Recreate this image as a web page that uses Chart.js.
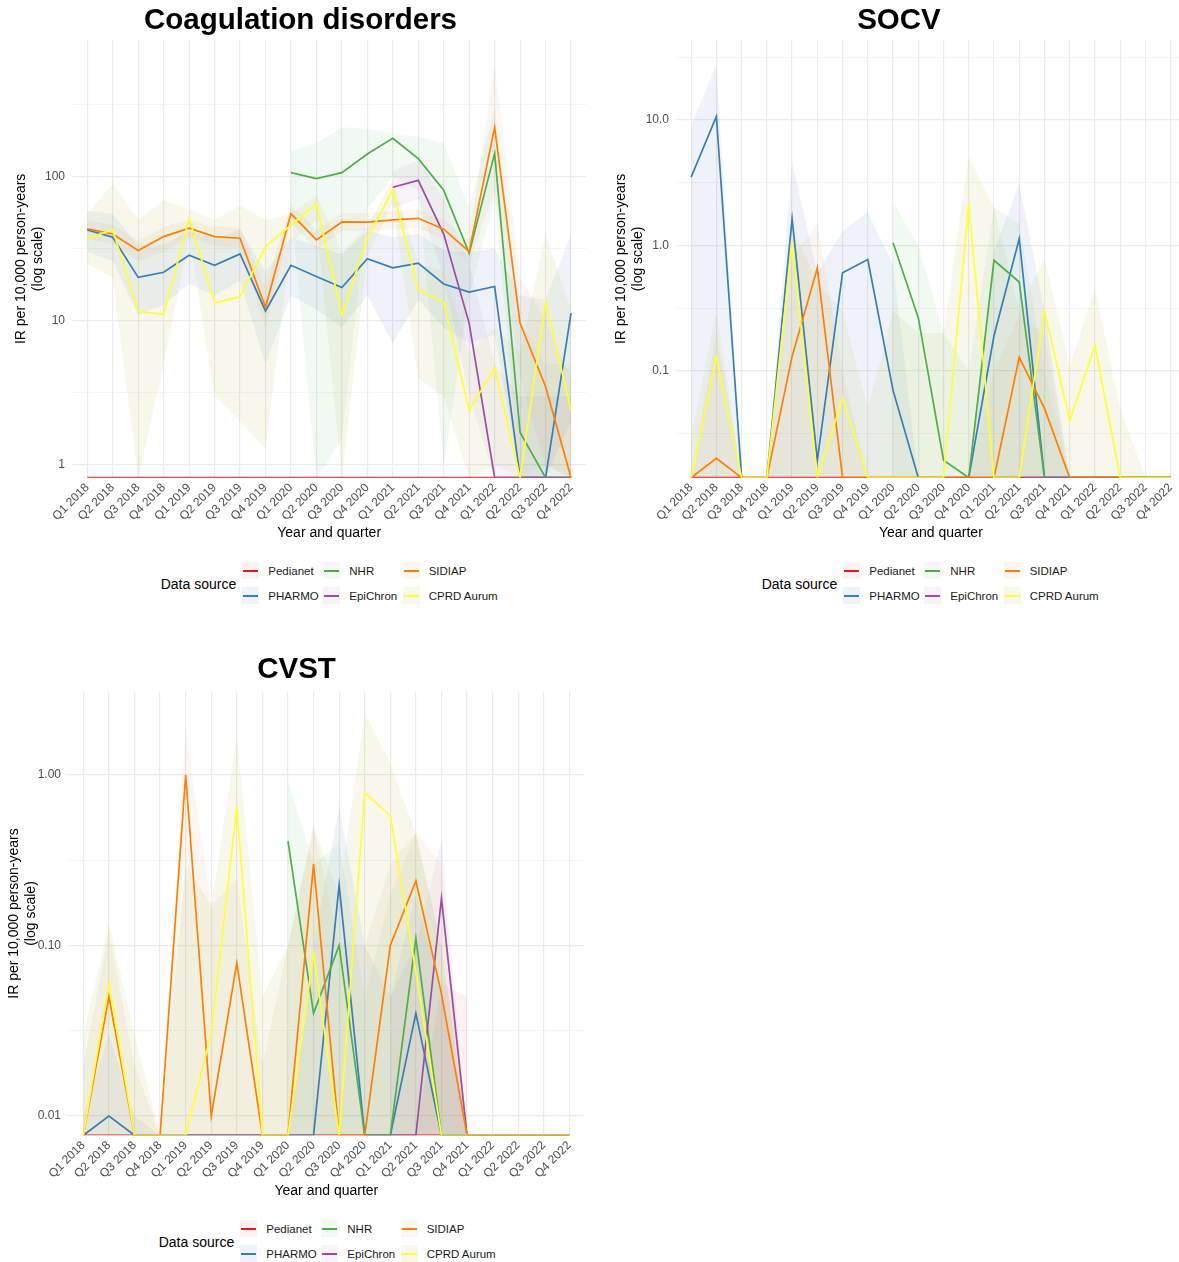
<!DOCTYPE html>
<html>
<head>
<meta charset="utf-8">
<script src="https://cdn.jsdelivr.net/npm/chart.js@4.4.1/dist/chart.umd.min.js"></script>
<style>
html,body{margin:0;padding:0;background:#fff;overflow:hidden;width:1179px;height:1262px;}
body{position:relative;font-family:"Liberation Sans",Arial,Helvetica,sans-serif;}
canvas{position:absolute;}
.ttl{position:absolute;font-weight:bold;font-size:29.5px;line-height:29.5px;color:#000;white-space:nowrap;transform:translateX(-50%);}
.lt{position:absolute;font-size:11.5px;line-height:12px;color:#1a1a1a;white-space:nowrap;}
.ds{position:absolute;font-size:14px;line-height:14px;color:#000;white-space:nowrap;}
.key{position:absolute;width:17px;height:17px;}
.key i{position:absolute;left:1px;right:1px;top:7.5px;height:2px;}
</style>
</head>
<body>
<canvas id="c1" width="600" height="548" style="left:0px;top:0px;width:600px;height:548px"></canvas>
<canvas id="c2" width="600" height="548" style="left:600px;top:0px;width:600px;height:548px"></canvas>
<canvas id="c3" width="604" height="556" style="left:-4px;top:650px;width:604px;height:556px"></canvas>
<script>
// ---------------- DATA ----------------
const quarters = ['Q1 2018','Q2 2018','Q3 2018','Q4 2018','Q1 2019','Q2 2019','Q3 2019','Q4 2019',
  'Q1 2020','Q2 2020','Q3 2020','Q4 2020','Q1 2021','Q2 2021','Q3 2021','Q4 2021',
  'Q1 2022','Q2 2022','Q3 2022','Q4 2022'];
const sources = ['Pedianet','PHARMO','NHR','EpiChron','SIDIAP','CPRD Aurum'];
const sourceColors = ['#E41A1C','#377EB8','#4DAF4A','#984EA3','#FF7F00','#FFFF33'];
const panelTitles = ['Coagulation disorders','SOCV','CVST'];
const N = null;

// Coagulation disorders (IR per 10,000 person-years; 0 = no events)
const coagIR = [
  [0,0,0,0,0,0,0,0,0,0,0,0,0,0,0,0,0,0,0,0],
  [42.7,38,20,21.7,28.5,24.3,29.1,11.7,24.3,20.3,17,27,23.3,25.1,18,15.8,17.3,0,0,11.3],
  [N,N,N,N,N,N,N,N,106.6,96.9,106.6,143.6,184.5,133.3,80.4,29.4,145,1.68,0,0],
  [N,N,N,N,N,N,N,N,N,N,N,N,84.4,94.3,40,9.6,0,0,0,0],
  [43.4,40,30.7,38.4,43.9,38.4,37.4,12.4,55.4,36.4,48.5,48.3,50.1,51.4,43.2,30.2,220,9.6,3.5,0],
  [37.4,42.7,11.6,11.1,51.4,13.3,14.7,32.7,46,64.7,11,37.4,80.9,16.4,13.5,2.4,4.7,0,13.4,2.4]
];
const coagLower = [
  N,
  [30,26,11,13,18,15,19,5,15,12,9,15,7,14,9,7,8,0,0,2],
  [N,N,N,N,N,N,N,N,60,0,1.5,60,100,80,1.0,15,70,0,0,0],
  [N,N,N,N,N,N,N,N,N,N,N,N,60,70,20,3,0,0,0,0],
  [37,34,26,30,38,33,32,9,48,31,42,42,43,44,37,25,80,4,1,0],
  [25,20,0,5,38,3,2,1.3,35,50,0,28,65,4,3,0,1,0,1,0]
];
const coagUpper = [
  N,
  [58,55,33,34,42,37,43,22,38,33,29,42,38,40,31,30,32,15,14,40],
  [N,N,N,N,N,N,N,N,150,170,220,215,200,190,170,60,300,10,5,5],
  [N,N,N,N,N,N,N,N,N,N,N,N,110,130,70,25,5,3,3,3],
  [50,46,36,45,50,45,44,17,64,43,56,56,58,59,50,36,600,20,10,4],
  [55,90,50,68,60,50,63,50,55,75,30,45,95,25,22,6,9,6,40,12]
];
const coagYTicks = [1,10,100];
const coagYLabels = ['1','10','100'];

// SOCV
const socvIR = [
  [0,0,0,0,0,0,0,0,0,0,0,0,0,0,0,0,0,0,0,0],
  [3.5,10.7,0,0,1.63,0.0193,0.605,0.77,0.0697,0,0,0,0.19,1.13,0,0,0,0,0,0],
  [N,N,N,N,N,N,N,N,1.05,0.265,0.0193,0,0.76,0.51,0,0,0,0,0,0],
  [N,N,N,N,N,N,N,N,N,N,N,N,0,0,0,0,0,0,0,0],
  [0,0.02,0,0,0.13,0.66,0,0,0,0,0,0,0,0.128,0.05,0,0,0,0,0],
  [0,0.128,0,0,1.03,0,0.06,0,0,0,0,2.15,0,0,0.30,0.040,0.159,0,0,0]
];
const socvLower = [
  N,
  [0,0,0,0,0,0,0,0,0,0,0,0,0,0,0,0,0,0,0,0],
  [N,N,N,N,N,N,N,N,0,0,0,0,0,0,0,0,0,0,0,0],
  N,
  [0,0,0,0,0,0,0,0,0,0,0,0,0,0,0,0,0,0,0,0],
  [0,0,0,0,0,0,0,0,0,0,0,0,0,0,0,0,0,0,0,0]
];
const socvUpper = [
  N,
  [9,28,0,0,4.6,0.6,1.3,1.85,0.7,0,0,0,0.9,3.1,0.3,0,0,0,0,0],
  [N,N,N,N,N,N,N,N,2.2,1.0,0.2,0.1,2.0,1.5,0.1,0,0,0,0,0],
  N,
  [0,0.2,0,0,0.8,1.5,0.1,0,0,0,0,0,0.1,0.28,0.2,0,0,0,0,0],
  [0.03,0.3,0,0,1.4,0.5,0.3,0.05,0.3,0.2,0.2,5.1,2.0,0.3,0.8,0.11,0.45,0.05,0,0]
];
const socvYTicks = [0.1,1,10];
const socvYLabels = ['0.1','1.0','10.0'];

// CVST
const cvstIR = [
  [0,0,0,0,0,0,0,0,0,0,0,0,0,0,0,0,0,0,0,0],
  [0,0.01,0,0,0,0,0,0,0,0,0.226,0,0,0.04,0,0,0,0,0,0],
  [N,N,N,N,N,N,N,N,0.41,0.04,0.10,0,0,0.11,0,0,0,0,0,0],
  [N,N,N,N,N,N,N,N,N,N,N,N,0,0,0.189,0,0,0,0,0],
  [0,0.05,0,0,1.0,0.01,0.079,0,0,0.30,0,0,0.10,0.239,0.052,0,0,0,0,0],
  [0,0.06,0,0,0,0.0305,0.65,0,0,0.09,0,0.79,0.575,0.07,0,0,0,0,0,0]
];
const cvstLower = [
  [0,0,0,0,0,0,0,0,0,0,0,0,0,0,0,0,N,N,N,N],
  [0,0,0,0,0,0,0,0,0,0,0,0,0,0,0,0,0,0,0,0],
  [N,N,N,N,N,N,N,N,0,0,0,0,0,0,0,0,0,0,0,0],
  [N,N,N,N,N,N,N,N,N,N,N,N,0,0,0,0,0,0,0,0],
  [0,0,0,0,0,0,0,0,0,0,0,0,0,0,0,0,0,0,0,0],
  [0,0,0,0,0,0,0,0,0,0,0,0,0,0,0,0,0,0,0,0]
];
const cvstUpper = [
  [0,0,0,0,0,0,0,0,0,0,0,0,0,0,0.06,0.05,N,N,N,N],
  [0.01,0.03,0.01,0,0,0,0,0,0,0.1,0.65,0.1,0.05,0.2,0.05,0,0,0,0,0],
  [N,N,N,N,N,N,N,N,0.93,0.3,0.4,0.05,0.2,0.45,0.1,0,0,0,0,0],
  [N,N,N,N,N,N,N,N,N,N,N,N,0.05,0.1,0.42,0,0,0,0,0],
  [0.02,0.12,0.02,0,1.8,0.17,0.25,0.02,0.1,0.5,0.1,0.1,0.3,0.46,0.3,0,0,0,0,0],
  [0.03,0.135,0.03,0,0.3,0.17,1.68,0.05,0.1,0.5,0.2,2.3,1.17,0.45,0.1,0,0,0,0,0]
];
const cvstYTicks = [0.01,0.1,1];
const cvstYLabels = ['0.01','0.10','1.00'];

// ---------------- STYLE / LAYOUT ----------------
const FONT = '"Liberation Sans", Arial, Helvetica, sans-serif';
Chart.defaults.font.family = FONT;
const ribbonFills = ['rgba(228,60,60,0.07)','rgba(55,100,184,0.08)','rgba(77,175,74,0.07)',
  'rgba(152,78,163,0.07)','rgba(215,160,100,0.09)','rgba(190,190,100,0.12)'];

const panels = [
  {id:'c1', width:600, height:548, chartTop:40, yAxisW:72, xAxisH:70.3, padRight:13.7,
   yMin:0.816, yMax:887, yTicks:coagYTicks, yLabels:coagYLabels, ir:coagIR, lo:coagLower, hi:coagUpper,
   yTitlePad:12.6, title:panelTitles[0], titleX:300.5, titleY:18.3, legDX:0, legDY:0},
  {id:'c2', width:600, height:548, chartTop:40, yAxisW:76, xAxisH:70.3, padRight:14.2,
   yMin:0.01401, yMax:43.5, yTicks:socvYTicks, yLabels:socvYLabels, ir:socvIR, lo:socvLower, hi:socvUpper,
   yTitlePad:12.6, title:panelTitles[1], titleX:899, titleY:18.3, legDX:601, legDY:0},
  {id:'c3', width:604, height:556, chartTop:41.7, yAxisW:72, xAxisH:70.7, padRight:15.3,
   yMin:0.0077, yMax:3.08, yTicks:cvstYTicks, yLabels:cvstYLabels, ir:cvstIR, lo:cvstLower, hi:cvstUpper,
   yTitlePad:9.6, title:panelTitles[2], titleX:296.5, titleY:667, legDX:-2, legDY:658}
];

function buildDatasets(p){
  const toPts = arr => arr.map((v,i)=>({x:i, y: v===null ? null : (v<=0 ? p.yMin : v)}));
  const ds = [];
  sources.forEach((s,k)=>{
    if(!p.hi[k] || !p.lo[k]) return;
    const idxLo = ds.length;
    ds.push({data:toPts(p.lo[k]), borderWidth:0, pointRadius:0, fill:false, order:200-k, clip:0, spanGaps:false});
    ds.push({data:toPts(p.hi[k]), borderWidth:0, pointRadius:0, fill:idxLo, backgroundColor:ribbonFills[k], order:200-k, clip:0, spanGaps:false});
  });
  sources.forEach((s,k)=>{
    ds.push({label:s, data:toPts(p.ir[k]), borderColor:sourceColors[k], borderWidth:1.7, pointRadius:0,
      fill:false, tension:0, order:10-k, clip:0, spanGaps:false});
  });
  return ds;
}

panels.forEach(p=>{
  const majors = p.yTicks;
  const allTicks = [];
  majors.forEach(v=>{allTicks.push(v); allTicks.push(v*Math.sqrt(10));});
  allTicks.unshift(majors[0]/Math.sqrt(10));
  const isMajor = v => majors.some(m=>Math.abs(m-v)/m<1e-6);
  new Chart(document.getElementById(p.id), {
    type:'line',
    data:{datasets:buildDatasets(p)},
    options:{
      responsive:false, animation:false, events:[],
      layout:{padding:{top:p.chartTop, right:p.padRight, left:0, bottom:0}},
      plugins:{legend:{display:false}, tooltip:{enabled:false}, title:{display:false}},
      scales:{
        x:{type:'linear', min:-0.6, max:19.6, bounds:'data',
          afterBuildTicks:s=>{s.ticks = quarters.map((q,i)=>({value:i}));},
          afterFit:s=>{s.height = p.xAxisH;},
          ticks:{autoSkip:false, maxRotation:45, minRotation:45, padding:3, color:'#4d4d4d',
            font:{size:12, family:FONT}, callback:(v)=>quarters[v]},
          grid:{color:'#ebebeb', lineWidth:1.2, drawTicks:false},
          border:{display:false},
          title:{display:true, text:'Year and quarter', color:'#000', font:{size:14, family:FONT}, padding:{top:0, bottom:6.6}}
        },
        y:{type:'logarithmic', min:p.yMin, max:p.yMax, bounds:'data',
          afterBuildTicks:s=>{s.ticks = allTicks.filter(v=>v>=p.yMin && v<=p.yMax).map(v=>({value:v}));},
          afterFit:s=>{s.width = p.yAxisW;},
          ticks:{autoSkip:false, padding:7, color:'#4d4d4d', font:{size:12, family:FONT},
            callback:(v)=>{const i = majors.findIndex(m=>Math.abs(m-v)/m<1e-6); return i>=0 ? p.yLabels[i] : '';}},
          grid:{drawTicks:false,
            color:(c)=>isMajor(c.tick?c.tick.value:0)?'#ebebeb':'#f1f1f1',
            lineWidth:(c)=>isMajor(c.tick?c.tick.value:0)?1.2:0.8},
          border:{display:false},
          title:{display:true, text:['IR per 10,000 person-years','(log scale)'], color:'#000',
            font:{size:14, family:FONT}, padding:{top:p.yTitlePad, bottom:0}}
        }
      }
    }
  });

  // panel title
  const t = document.createElement('div');
  t.className='ttl'; t.textContent=p.title;
  t.style.left=p.titleX+'px'; t.style.top=(p.titleY-14.4)+'px';
  document.body.appendChild(t);

  // legend
  const dx=p.legDX, dy=p.legDY;
  const dsl=document.createElement('div');
  dsl.className='ds'; dsl.textContent='Data source';
  dsl.style.left=(160.7+dx)+'px'; dsl.style.top=(584+dy-6.8)+'px';
  document.body.appendChild(dsl);
  const rowY=[570.8,595.8], colX=[268.3,349.3,428.7];
  sources.forEach((s,k)=>{
    const col=Math.floor(k/2), row=k%2;
    const key=document.createElement('div');
    key.className='key';
    key.style.left=(colX[col]-26+dx)+'px'; key.style.top=(rowY[row]-8.5+dy)+'px';
    key.style.background=ribbonFills[k];
    const ln=document.createElement('i'); ln.style.background=sourceColors[k]; key.appendChild(ln);
    document.body.appendChild(key);
    const lt=document.createElement('div');
    lt.className='lt'; lt.textContent=s;
    lt.style.left=(colX[col]+dx)+'px'; lt.style.top=(rowY[row]-5.9+dy)+'px';
    document.body.appendChild(lt);
  });
});
</script>
</body>
</html>
